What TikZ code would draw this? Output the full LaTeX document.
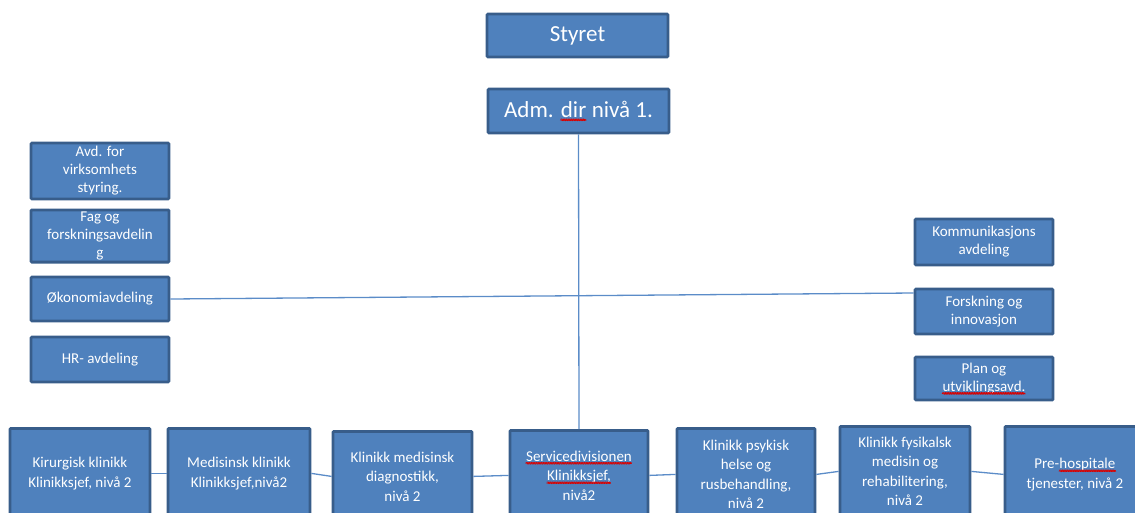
\documentclass[tikz,border=0pt]{standalone}
\usepackage{fontspec}
\setmainfont{Carlito}
\usetikzlibrary{decorations.pathmorphing}
\definecolor{boxfill}{HTML}{4F81BD}
\definecolor{boxline}{HTML}{385D8A}
\definecolor{linkline}{HTML}{5B8CC8}
% word with a red wavy underline
\newcommand{\spellmark}[1]{\tikz[baseline=(sw.base)]{%
  \node[inner sep=0pt, outer sep=0pt, draw=none, fill=none, text=white,
        minimum width=0pt, minimum height=0pt, anchor=base] (sw) {#1};
  \draw[red!85!black, line width=0.5pt, decorate,
        decoration={snake, amplitude=0.6pt, segment length=2.4pt}]
        ([yshift=-2.2pt]sw.base west) -- ([yshift=-2.2pt]sw.base east);}}
\tikzset{
  orgbox/.style={draw=boxline, fill=boxfill, line width=2.8pt, rounded corners=1pt,
    text=white, align=center, inner sep=2pt},
  bigbox/.style={orgbox, minimum width=181pt, minimum height=43pt,
    font=\fontsize{23}{27}\selectfont},
  sidebox/.style={orgbox, minimum width=138pt, minimum height=45pt,
    font=\fontsize{15}{18}\selectfont},
  unitbox/.style={orgbox, anchor=north, minimum height=90pt,
    font=\fontsize{15}{19.5}\selectfont},
  link/.style={draw=linkline, line width=1.3pt}
}
\begin{document}
\begin{tikzpicture}[x=1pt, y=-1pt]
\useasboundingbox (0,0) rectangle (1135,512);
\clip (0,0) rectangle (1135,512);

% top management
\node[bigbox] (styret) at (577.5,35.5) {Styret};
\node[bigbox, minimum height=44pt] (adm) at (578.5,111) {Adm. \spellmark{dir} nivå 1.};

% staff departments, left column
\node[sidebox, minimum height=56pt] (avd) at (100,171) {Avd. for\\virksomhets\\styring.};
\node[sidebox, minimum height=46pt] (fag) at (100,236) {Fag og\\forskningsavdelin\\g};
\node[sidebox, minimum height=44pt] (okon) at (100,299) {Økonomiavdeling};
\node[sidebox, minimum height=45pt] (hr) at (100,359.5) {HR- avdeling};

% staff departments, right column
\node[sidebox, minimum height=46pt] (komm) at (984,242) {Kommunikasjons\\avdeling};
\node[sidebox, minimum height=45pt] (forsk) at (984,311.5) {Forskning og\\innovasjon};
\node[sidebox, minimum height=43pt] (plan) at (984,378.5) {Plan og\\\spellmark{utviklingsavd.}};

% clinics and divisions, bottom row
\node[unitbox, minimum width=140pt] (kir) at (80,427) {Kirurgisk klinikk\\Klinikksjef, nivå 2};
\node[unitbox, minimum width=142pt] (med) at (239,427) {Medisinsk klinikk\\Klinikksjef,nivå2};
\node[unitbox, minimum width=139pt] (diag) at (402.5,430) {Klinikk medisinsk\\diagnostikk,\\nivå 2};
\node[unitbox, minimum width=138pt] (serv) at (579,429) {\spellmark{Servicedivisionen}\\\spellmark{Klinikksjef,}\\nivå2};
\node[unitbox, minimum width=138pt, minimum height=92pt] (psyk) at (746,427) {Klinikk psykisk\\helse og\\rusbehandling,\\nivå 2};
\node[unitbox, minimum width=130pt] (fys) at (905,425) {Klinikk fysikalsk\\medisin og\\rehabilitering,\\nivå 2};
\node[unitbox, minimum width=140pt, minimum height=96pt] (pre) at (1075,425) {Pre-\spellmark{hospitale}\\tjenester, nivå 2};

% connectors
\draw[link] (adm.south) -- (serv.north);
\draw[link] (okon.east) -- ([yshift=18.5pt]forsk.west);
\draw[link] (kir.east) -- (med.west);
\draw[link] (med.east) -- (diag.west);
\draw[link] (diag.east) -- (serv.west);
\draw[link] (serv.east) -- (psyk.west);
\draw[link] (psyk.east) -- (fys.west);
\draw[link] (fys.east) -- (pre.west);
\end{tikzpicture}
\end{document}
